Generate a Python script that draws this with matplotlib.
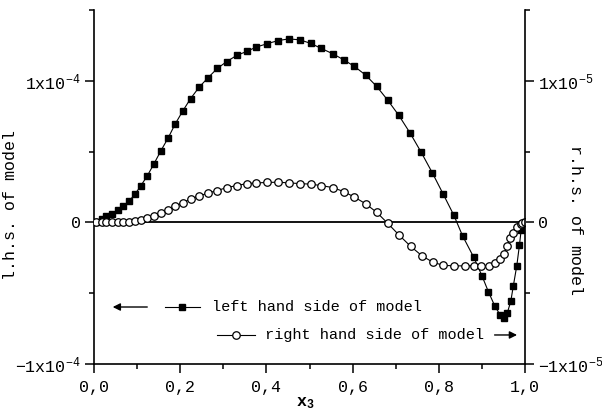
import numpy as np
import matplotlib.pyplot as plt
from matplotlib.ticker import MultipleLocator, FuncFormatter

plt.rcParams['font.family'] = ['Liberation Mono', 'DejaVu Sans Mono']
plt.rcParams['mathtext.fontset'] = 'custom'
plt.rcParams['mathtext.rm'] = 'Liberation Mono'
plt.rcParams['mathtext.it'] = 'Liberation Mono'
plt.rcParams['mathtext.bf'] = 'Liberation Mono:bold'
plt.rcParams['font.size'] = 12

# left hand side of model (units of 1e-4)
x_lhs = [0.005, 0.018, 0.029, 0.042, 0.056, 0.068, 0.081, 0.095, 0.109,
         0.124, 0.139, 0.155, 0.172, 0.188, 0.206, 0.224, 0.244, 0.265, 0.286,
         0.308, 0.331, 0.354, 0.377, 0.402, 0.427, 0.452, 0.478, 0.503, 0.527,
         0.554, 0.579, 0.604, 0.630, 0.656, 0.681, 0.707, 0.733, 0.759, 0.785,
         0.810, 0.835, 0.855, 0.881, 0.900, 0.915, 0.930, 0.942, 0.951, 0.959,
         0.967, 0.973, 0.981, 0.987, 0.991, 0.995, 1.0]
lhs = [0.002, 0.026, 0.043, 0.062, 0.085, 0.113, 0.149, 0.199, 0.260,
       0.331, 0.413, 0.505, 0.596, 0.693, 0.787, 0.874, 0.955, 1.023, 1.087,
       1.136, 1.179, 1.207, 1.239, 1.262, 1.284, 1.296, 1.289, 1.264, 1.229,
       1.191, 1.149, 1.102, 1.041, 0.960, 0.865, 0.757, 0.633, 0.496, 0.350,
       0.201, 0.050, -0.094, -0.246, -0.376, -0.489, -0.591, -0.652, -0.672, -0.638,
       -0.558, -0.447, -0.305, -0.163, -0.057, -0.005, 0.0]

# right hand side of model (units of 1e-5)
x_rhs = [0.005, 0.018, 0.029, 0.042, 0.056, 0.068, 0.081, 0.095, 0.109,
         0.124, 0.139, 0.155, 0.172, 0.188, 0.206, 0.224, 0.244, 0.265, 0.286,
         0.308, 0.331, 0.354, 0.377, 0.402, 0.427, 0.452, 0.478, 0.503, 0.527,
         0.554, 0.579, 0.604, 0.630, 0.656, 0.681, 0.707, 0.735, 0.761, 0.786,
         0.810, 0.835, 0.861, 0.882, 0.899, 0.916, 0.930, 0.941, 0.952, 0.958,
         0.966, 0.973, 0.982, 0.990, 0.994, 1.0]
rhs = [0, 0, 0, 0, 0, 0, 0.002, 0.007, 0.019,
       0.031, 0.048, 0.064, 0.087, 0.113, 0.140, 0.165, 0.186, 0.208, 0.225,
       0.246, 0.260, 0.274, 0.279, 0.282, 0.284, 0.279, 0.274, 0.270, 0.260,
       0.246, 0.218, 0.179, 0.132, 0.071, -0.005, -0.087, -0.170, -0.236, -0.281,
       -0.303, -0.307, -0.307, -0.305, -0.310, -0.305, -0.289, -0.258, -0.222, -0.168,
       -0.109, -0.073, -0.033, -0.009, -0.005, 0.0]

xticks = [0.0, 0.2, 0.4, 0.6, 0.8, 1.0]
left_ticks = [-1e-4, 0, 1e-4]
left_labels = [r'$\mathregular{-1x10^{-4}}$', '0', r'$\mathregular{1x10^{-4}}$']
right_ticks = [-1e-5, 0, 1e-5]
right_labels = [r'$\mathregular{-1x10^{-5}}$', '0', r'$\mathregular{1x10^{-5}}$']

fig = plt.figure(figsize=(6.02, 4.12), dpi=100)
ax = fig.add_axes([94/602, 48/412, 431/602, 354/412])
ax2 = ax.twinx()

ax.plot(x_lhs, np.array(lhs)*1e-4, color='k', lw=0.8, marker='s', ms=5,
        mfc='k', mec='k')
ax2.plot(x_rhs, np.array(rhs)*1e-5, color='k', lw=0.8, marker='o', ms=5.4,
         mfc='white', mec='k', mew=0.9)
ax.axhline(0, color='k', lw=1.3, zorder=1)

ax.set_xlim(0, 1.0)
ax.set_ylim(-1e-4, 1.5e-4)
ax2.set_ylim(-1e-5, 1.5e-5)

ax.set_xticks(xticks)
ax.xaxis.set_minor_locator(MultipleLocator(0.1))
ax.xaxis.set_major_formatter(FuncFormatter(lambda v, p: ('%.1f' % v).replace('.', ',')))
ax.set_yticks(left_ticks)
ax.set_yticklabels(left_labels)
ax.yaxis.set_minor_locator(MultipleLocator(0.5e-4))
ax2.set_yticks(right_ticks)
ax2.set_yticklabels(right_labels)
ax2.yaxis.set_minor_locator(MultipleLocator(0.5e-5))

for a in (ax, ax2):
    a.spines['top'].set_visible(False)
    for s in a.spines.values():
        s.set_linewidth(1.2)
    a.tick_params(which='major', length=6.5, width=1.1, direction='out', pad=3)
    a.tick_params(which='minor', length=3.5, width=1.1, direction='out')
ax.tick_params(axis='x', which='major', pad=5)
ax.spines['right'].set_visible(False)
ax2.spines['left'].set_visible(False)
ax2.spines['bottom'].set_visible(False)

ax.set_xlabel(r'$\mathbf{x_3}$', fontsize=12)
ax.xaxis.set_label_coords(0.49, -0.088)
ax.set_ylabel('l.h.s. of model')
ax.yaxis.set_label_coords(-0.177, 0.449)
ax2.set_ylabel('r.h.s. of model', rotation=270)
ax2.yaxis.set_label_coords(1.135, 0.407)

# legend
y1, y2 = 0.161, 0.082
ax.annotate('', xy=(0.037, y1), xytext=(0.130, y1), xycoords='axes fraction',
            arrowprops=dict(arrowstyle='-|>', color='k', lw=1.0, mutation_scale=11))
ax.plot([0.165, 0.246], [y1, y1], transform=ax.transAxes, color='k', lw=0.8,
        clip_on=False)
ax.plot([0.204], [y1], transform=ax.transAxes, color='k', marker='s', ms=5,
        clip_on=False)
ax.text(0.274, y1, 'left hand side of model', transform=ax.transAxes,
        va='center', fontsize=11)

ax.plot([0.285, 0.374], [y2, y2], transform=ax.transAxes, color='k', lw=0.8,
        clip_on=False)
ax.plot([0.329], [y2], transform=ax.transAxes, color='k', marker='o', ms=5.4,
        mfc='white', mec='k', mew=0.9, clip_on=False)
ax.text(0.397, y2, 'right hand side of model', transform=ax.transAxes,
        va='center', fontsize=11)
ax.annotate('', xy=(0.988, y2), xytext=(0.923, y2), xycoords='axes fraction',
            arrowprops=dict(arrowstyle='-|>', color='k', lw=1.0, mutation_scale=11))

plt.savefig('out.png', dpi=100)
